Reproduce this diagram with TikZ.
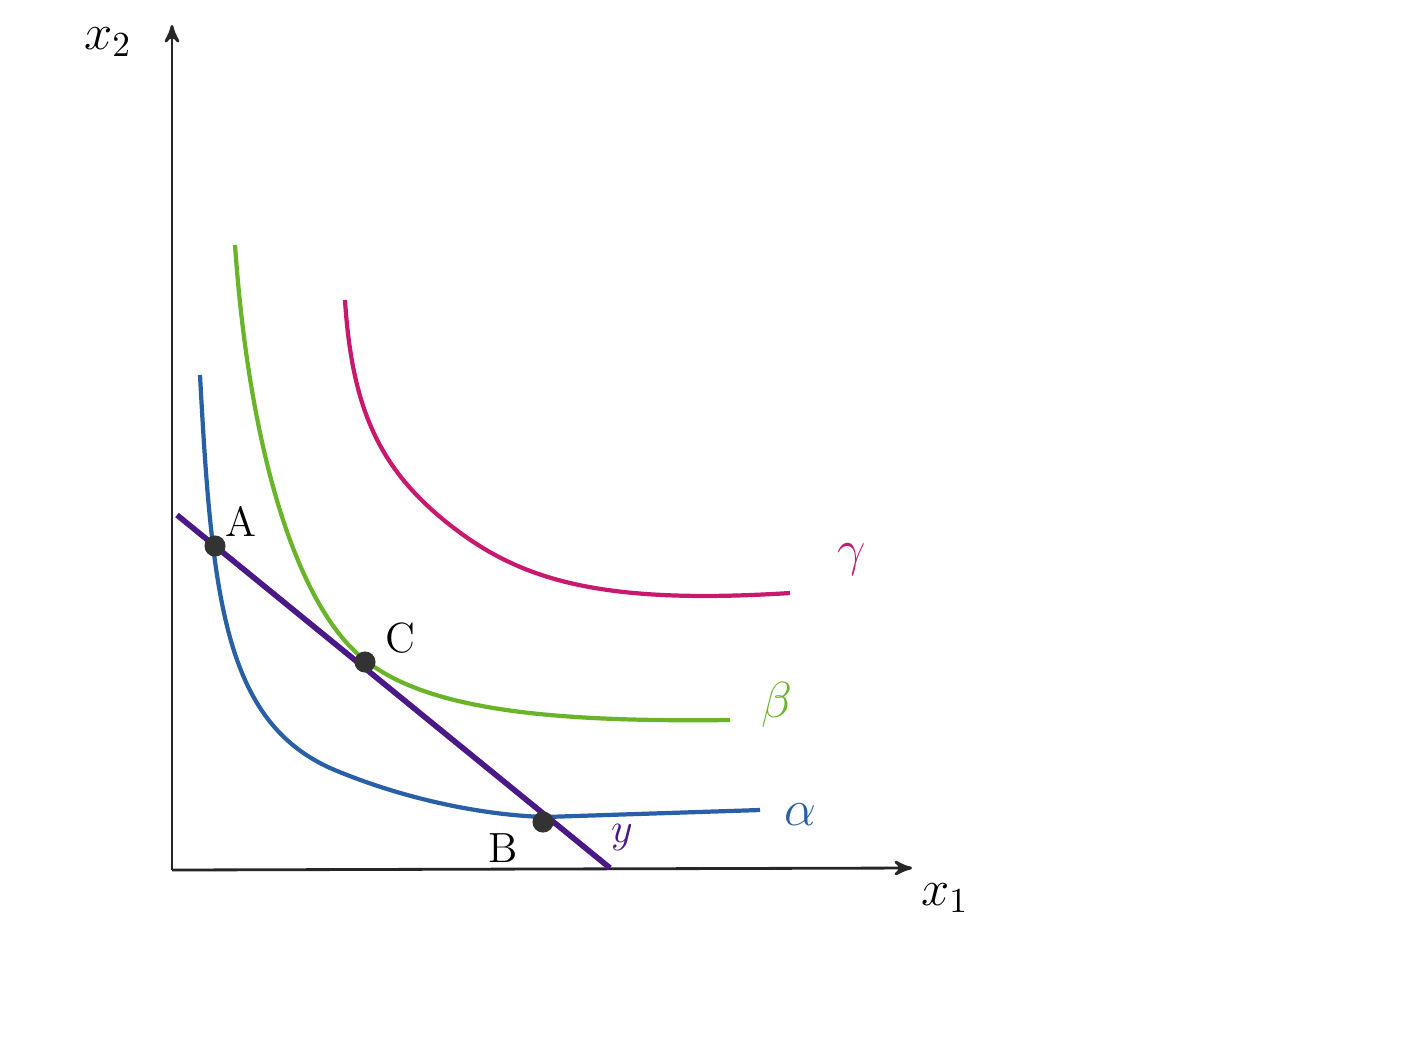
\documentclass[tikz,border=0pt]{standalone}
\usepackage{amsmath}
\usepackage{amssymb}
\usepackage{xcolor}
\usepackage{tikz}
\usetikzlibrary{arrows,positioning}
\tikzset{>=stealth'}

\definecolor{alphablue}{RGB}{40,95,165}
\definecolor{betagreen}{RGB}{105,180,40}
\definecolor{gammamag}{RGB}{200,25,110}
\definecolor{budgetpurple}{RGB}{75,25,135}

\begin{document}
\begin{tikzpicture}[x=0.01cm, y=-0.01cm,
                          axis/.style={thick, black!85,->},
                          curvea/.style={very thick, alphablue},
                          curveb/.style={very thick, betagreen},
                          curvec/.style={very thick, gammamag},
                          budget/.style={ultra thick, budgetpurple},
                          dot/.style={circle, fill=black!80, inner sep=0pt, minimum size=6pt},
                          lab/.style={font=\large},
                          glab/.style={font=\Large},
                         ]

\useasboundingbox (0,0) rectangle (1406,1060);

\coordinate (0) at (172,870);
\coordinate (ytop) at (172,25);
\coordinate (xend) at (912,868);

\draw[axis] (0) -- (ytop);
\draw[axis] (0) -- (xend);
\node[glab] (x2) at (108,42) {$x_2$};
\node[glab] (x1) at (945,898) {$x_1$};

% indifference curves
\draw[curvea] (200,375) .. controls (212,600) and (225,720) .. (330,768)
              .. controls (400,798) and (480,815) .. (545,817)
              -- (760,810);
\draw[curveb] (235,245) .. controls (250,460) and (300,610) .. (365,660)
              .. controls (430,712) and (560,722) .. (730,720);
\draw[curvec] (345,300) .. controls (352,410) and (380,470) .. (450,525)
              .. controls (520,580) and (600,605) .. (790,593);

\node[glab, text=alphablue] (la) at (800,815) {$\alpha$};
\node[glab, text=betagreen] (lb) at (777,705) {$\beta$};
\node[glab, text=gammamag] (lc) at (852,560) {$\gamma$};

% budget line
\coordinate (bstart) at (177,515);
\coordinate (bend) at (610,868);
\draw[budget] (bstart) -- (bend);
\node[lab, text=budgetpurple] (ly) at (622,838) {$y$};

\node[dot] (A) at (215,546) {};
\node[dot] (C) at (365,662) {};
\node[dot] (B) at (543,822) {};
\node[lab] (lA) at (241,521) {A};
\node[lab] (lC) at (400,638) {C};
\node[lab] (lB) at (503,848) {B};

\end{tikzpicture}
\end{document}
